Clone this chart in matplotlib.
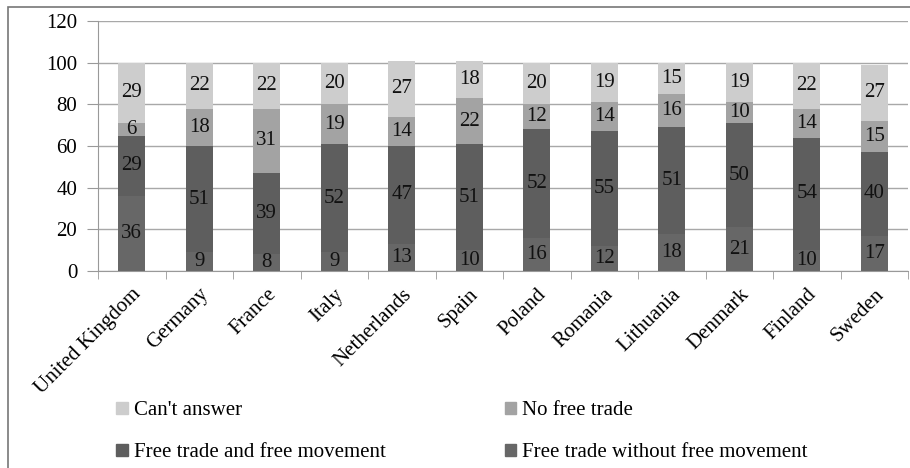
import matplotlib.pyplot as plt
from matplotlib.patches import Rectangle, Patch
import numpy as np

plt.rcParams['font.family'] = 'serif'
plt.rcParams['font.serif'] = ['Liberation Serif', 'DejaVu Serif']

countries = ['United Kingdom', 'Germany', 'France', 'Italy', 'Netherlands', 'Spain',
             'Poland', 'Romania', 'Lithuania', 'Denmark', 'Finland', 'Sweden']
without_movement = [36, 9, 8, 9, 13, 10, 16, 12, 18, 21, 10, 17]
with_movement = [29, 51, 39, 52, 47, 51, 52, 55, 51, 50, 54, 40]
no_free_trade = [6, 18, 31, 19, 14, 22, 12, 14, 16, 10, 14, 15]
cant_answer = [29, 22, 22, 20, 27, 18, 20, 19, 15, 19, 22, 27]

series = [
    ('Free trade without free movement', without_movement, '#676767'),
    ('Free trade and free movement', with_movement, '#5e5e5e'),
    ('No free trade', no_free_trade, '#a3a3a3'),
    ("Can't answer", cant_answer, '#cdcdcd'),
]

fig = plt.figure(figsize=(9.1, 4.68), dpi=100)
ax = fig.add_axes([98 / 910, 1 - 271 / 468, 810 / 910, 250 / 468])

x = np.arange(len(countries))
bottom = np.zeros(len(countries))
for name, vals, col in series:
    vals = np.array(vals)
    ax.bar(x, vals, 0.4, bottom=bottom, color=col, zorder=3)
    for xi, b, v in zip(x, bottom, vals):
        ax.text(xi, b + v / 2, str(v), ha='center', va='center',
                fontsize=15, color='#111111', zorder=4)
    bottom += vals

ax.set_xlim(-0.5, len(countries) - 0.5)
ax.set_ylim(0, 120)
ax.set_yticks(range(0, 121, 20))
ax.tick_params(axis='y', labelsize=15, length=8, color='#999999', pad=7)
ax.yaxis.grid(True, color='#a8a8a8', linewidth=1, zorder=0)
ax.set_axisbelow(True)

ax.set_xticks(np.arange(len(countries) + 1) - 0.5, minor=True)
ax.set_xticks(x)
ax.set_xticklabels(countries, rotation=45, ha='right', rotation_mode='anchor',
                   fontsize=15)
ax.tick_params(axis='x', which='major', length=0, pad=10)
ax.tick_params(axis='x', which='minor', length=6, color='#999999')

for s in ['top', 'right']:
    ax.spines[s].set_visible(False)
ax.spines['left'].set_color('#999999')
ax.spines['bottom'].set_color('#999999')

# outer chart frame (only left and top edges visible)
fig.patches.append(Rectangle((8 / 910, -0.5), 2, 1.5 - 7 / 468, transform=fig.transFigure,
                             fill=False, edgecolor='#777777', linewidth=1.2))

handles = [Patch(color=series[3][2]), Patch(color=series[1][2]),
           Patch(color=series[2][2]), Patch(color=series[0][2])]
labels = [series[3][0], series[1][0], series[2][0], series[0][0]]
fig.legend(handles, labels, ncol=2, loc='upper left', bbox_to_anchor=(106 / 910, 1 - 391 / 468),
           frameon=False, fontsize=15, handlelength=0.55, handleheight=0.55,
           handletextpad=0.3, columnspacing=5.7, labelspacing=1.1, borderpad=0)

fig.savefig('out.png', dpi=100)
